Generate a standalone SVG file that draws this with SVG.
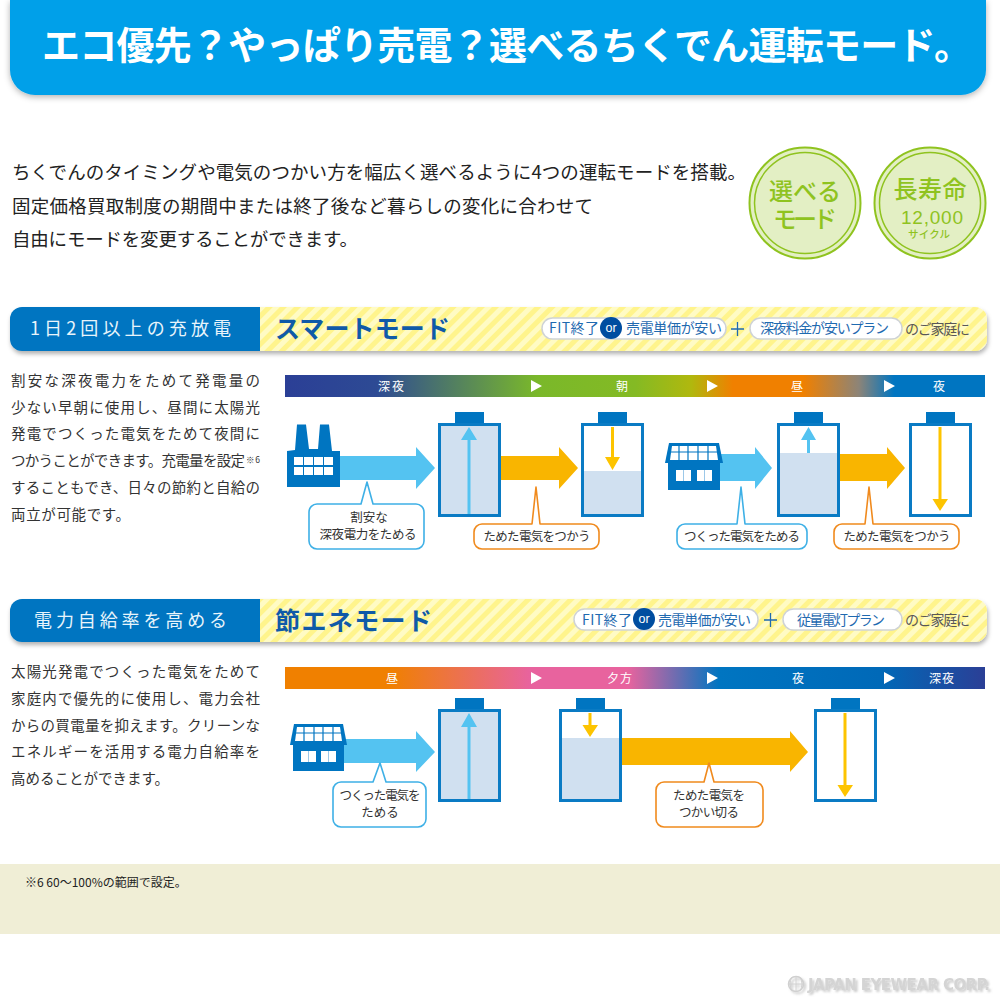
<svg xmlns="http://www.w3.org/2000/svg" width="1000" height="1000" viewBox="0 0 1000 1000">
<style>
text{font-family:"Noto Sans CJK JP","Noto Sans",sans-serif}
.m{text-anchor:middle}
.body{font-size:14.5px;fill:#333}
.intro{font-size:18.5px;fill:#222}
.lead{font-size:18px;fill:#e8f4fb}
.mode{font-size:25px;font-weight:700;fill:#0f5aa8}
.pill{fill:#fff;stroke:#cfd3d6;stroke-width:1.5}
.pt{font-size:14px;fill:#1f6ab0}
.gray{font-size:14px;fill:#595757}
.or{font-size:12.5px;fill:#fff;font-family:"Liberation Sans",sans-serif}
.tl{font-size:12px;fill:#fff}
.cap{fill:#0075c1}
.bat{fill:#fff;stroke:#0a7bc4;stroke-width:3}
.lvl{fill:#d0e0f0}
.cb{fill:#fff;stroke:#3eb0e6;stroke-width:1.6;stroke-linejoin:round}
.co{fill:#fff;stroke:#f08a1d;stroke-width:1.6;stroke-linejoin:round}
.ct{font-size:12.5px;fill:#333}
.ab{fill:#54c3f1}
.ay{fill:#f9b500}
.ag{fill:#fdc400}
.blue{fill:#0075c1}
.win{fill:#fff}
.ring{fill:#e3efc4;stroke:#8fc31f;stroke-width:2}
.ring2{fill:none;stroke:#8fc31f;stroke-width:1.5}
.gt{fill:#8fc31f;font-weight:500}
</style>
<defs>
<pattern id="st" width="10" height="10" patternUnits="userSpaceOnUse" patternTransform="rotate(45)">
<rect width="10" height="10" fill="#fff48c"/><rect width="5" height="10" fill="#fffbc4"/>
</pattern>
<filter id="sh" x="-3%" y="-20%" width="106%" height="150%"><feDropShadow dx="1" dy="3" stdDeviation="2" flood-color="#000" flood-opacity=".3"/></filter>
<filter id="sh2" x="-3%" y="-20%" width="106%" height="150%"><feDropShadow dx="0" dy="2" stdDeviation="3" flood-color="#000" flood-opacity=".3"/></filter>
<filter id="blur" x="-5%" y="-40%" width="110%" height="200%"><feDropShadow dx="2" dy="2" stdDeviation="1.2" flood-color="#999" flood-opacity=".5"/></filter>
<linearGradient id="g1" gradientUnits="userSpaceOnUse" x1="285" y1="0" x2="985" y2="0">
<stop offset="0" stop-color="#2b3f96"/><stop offset=".13" stop-color="#2d4a94"/><stop offset=".36" stop-color="#7ab82a"/><stop offset=".5" stop-color="#84ba24"/><stop offset=".58" stop-color="#b0b80e"/><stop offset=".64" stop-color="#f08000"/><stop offset=".74" stop-color="#f08000"/><stop offset=".82" stop-color="#8c8478"/><stop offset=".87" stop-color="#0075c1"/><stop offset="1" stop-color="#0075c1"/>
</linearGradient>
<linearGradient id="g2" gradientUnits="userSpaceOnUse" x1="285" y1="0" x2="985" y2="0">
<stop offset="0" stop-color="#f08000"/><stop offset=".15" stop-color="#f08000"/><stop offset=".35" stop-color="#e8639e"/><stop offset=".49" stop-color="#e8639e"/><stop offset=".62" stop-color="#0075c1"/><stop offset=".85" stop-color="#0069b8"/><stop offset="1" stop-color="#2b3f96"/>
</linearGradient>
</defs>
<rect width="1000" height="1000" fill="#fff"/>

<g id="header">
<path d="M10 0H986V70a25 25 0 0 1-25 25H35a25 25 0 0 1-25-25Z" fill="#00a0e9" filter="url(#sh2)"/>
<text x="42" y="59" font-size="38" font-weight="700" fill="#fff" textLength="930" lengthAdjust="spacing">エコ優先？やっぱり売電？選べるちくでん運転モード。</text>
</g>

<g id="intro">
<text class="intro" x="12" y="179" textLength="734" lengthAdjust="spacing">ちくでんのタイミングや電気のつかい方を幅広く選べるように4つの運転モードを搭載。</text>
<text class="intro" x="12" y="213" textLength="581" lengthAdjust="spacing">固定価格買取制度の期間中または終了後など暮らしの変化に合わせて</text>
<text class="intro" x="12" y="246" textLength="346" lengthAdjust="spacing">自由にモードを変更することができます。</text>
</g>

<g id="badge-mode">
<circle class="ring" cx="805" cy="203" r="55.5"/><circle class="ring2" cx="805" cy="203" r="50.5"/>
<text class="gt m" x="805" y="200" font-size="24" textLength="72" lengthAdjust="spacing">選べる</text>
<text class="gt m" x="805" y="228" font-size="24" textLength="64" lengthAdjust="spacing">モード</text>
</g>
<g id="badge-life">
<circle class="ring" cx="930" cy="203" r="55.5"/><circle class="ring2" cx="930" cy="203" r="50.5"/>
<text class="gt m" x="930" y="198" font-size="24" textLength="73" lengthAdjust="spacing">長寿命</text>
<text class="gt m" x="932" y="224" font-size="19" textLength="62" lengthAdjust="spacing" style="font-family:'Liberation Sans',sans-serif">12,000</text>
<text class="gt m" x="929" y="238" font-size="10.5" textLength="42" lengthAdjust="spacing">サイクル</text>
</g>

<g id="smart-title">
<g filter="url(#sh)">
<path d="M260 307H975a12 12 0 0 1 12 12V339a12 12 0 0 1-12 12H260Z" fill="url(#st)"/>
<path d="M22 307H260V351H22a12 12 0 0 1-12-12V319a12 12 0 0 1 12-12Z" fill="#0075c1"/>
</g>
<text class="lead" x="30" y="335" textLength="201" lengthAdjust="spacing">1日2回以上の充放電</text>
<text class="mode" x="275" y="338" textLength="175" lengthAdjust="spacing">スマートモード</text>
<rect class="pill" x="542" y="318" width="184" height="21" rx="10.5"/>
<text class="pt" x="549" y="333" textLength="50" lengthAdjust="spacing">FIT終了</text>
<circle cx="611" cy="328" r="11" fill="#004da0"/><text class="or m" x="611" y="332">or</text>
<text class="pt" x="626" y="333" textLength="96" lengthAdjust="spacing">売電単価が安い</text>
<path d="M731 329H744M737.500 322V336" stroke="#1f6ab0" stroke-width="1.3" fill="none"/>
<rect class="pill" x="750" y="318" width="152" height="21" rx="10.5"/>
<text class="pt" x="760" y="333" textLength="129" lengthAdjust="spacing">深夜料金が安いプラン</text>
<text class="gray" x="905" y="334" textLength="65" lengthAdjust="spacing">のご家庭に</text>
</g>

<g id="smart-text">
<text class="body" x="11" y="386" textLength="249" lengthAdjust="spacing">割安な深夜電力をためて発電量の</text>
<text class="body" x="11" y="413" textLength="249" lengthAdjust="spacing">少ない早朝に使用し、昼間に太陽光</text>
<text class="body" x="11" y="439" textLength="249" lengthAdjust="spacing">発電でつくった電気をためて夜間に</text>
<text class="body" x="11" y="466" textLength="234" lengthAdjust="spacing">つかうことができます。充電量を設定</text>
<text x="246" y="463" font-size="8.5" fill="#333" textLength="14" lengthAdjust="spacing">※6</text>
<text class="body" x="11" y="493" textLength="249" lengthAdjust="spacing">することもでき、日々の節約と自給の</text>
<text class="body" x="11" y="520" textLength="119" lengthAdjust="spacing">両立が可能です。</text>
</g>

<g id="smart-timeline">
<rect x="285" y="375" width="700" height="22" fill="url(#g1)"/>
<path d="M531 380L542 386L531 392ZM707 380L718 386L707 392ZM884 380L895 386L884 392Z" fill="#fff"/>
<text class="tl m" x="392" y="391" letter-spacing="2">深夜</text>
<text class="tl m" x="622" y="391">朝</text>
<text class="tl m" x="797" y="391">昼</text>
<text class="tl m" x="939" y="391">夜</text>
</g>

<g id="connectors">
<path class="ab" d="M340 456H416V447L435 468L416 489V480H340Z"/>
<path class="ay" d="M500 456H559V447L578 468L559 489V480H500Z"/>
<path class="ab" d="M720 454H755V447L772 468L755 489V481H720Z"/>
<path class="ay" d="M839 454H887V447L905 468L887 489V481H839Z"/>
<path class="ab" d="M344 739H416V731L435 752L416 772V763H344Z"/>
<path class="ay" d="M621 738H790V731L808 752L790 772V765H621Z"/>
</g>

<g id="factory" class="blue">
<path d="M287 487V451L295 450L297 424.500H306L309 449H318L320 424.500H329L332 451H340V487Z"/>
<g class="win"><rect x="294" y="457" width="9" height="8"/><rect x="304" y="457" width="9" height="8"/><rect x="314" y="457" width="9" height="8"/><rect x="324" y="457" width="9" height="8"/><rect x="294" y="467" width="9" height="8"/><rect x="304" y="467" width="9" height="8"/><rect x="314" y="467" width="9" height="8"/><rect x="324" y="467" width="9" height="8"/></g>
</g>

<g id="house-1">
<rect class="blue" x="668" y="463" width="52" height="27"/>
<path class="blue" d="M669 443H719L723 463H665Z"/>
<path d="M672 446H716L718 460H670Z" fill="#fff"/>
<path d="M671 452H717M679 445V461M688 445V461M698 445V461M708 445V461" stroke="#0075c1" stroke-width="1.2" fill="none"/>
<rect class="win" x="676" y="470" width="15" height="11"/><rect class="win" x="697" y="470" width="15" height="11"/>
<path d="M683.500 470V481M704.500 470V481" stroke="#9cc8e8" fill="none"/>
</g>

<g id="house-2">
<rect class="blue" x="293" y="744" width="51" height="27"/>
<path class="blue" d="M294 724H343L347 745H290Z"/>
<path d="M297 727H340L342 741H295Z" fill="#fff"/>
<path d="M296 733H342M304 726V742M314 726V742M323 726V742M333 726V742" stroke="#0075c1" stroke-width="1.2" fill="none"/>
<rect class="win" x="301" y="751" width="15" height="11"/><rect class="win" x="321" y="751" width="15" height="11"/>
<path d="M308.500 751V762M328.500 751V762" stroke="#9cc8e8" fill="none"/>
</g>

<g id="battery-1">
<rect class="cap" x="455" y="412" width="29" height="12"/>
<rect class="bat" x="439.500" y="424.500" width="60" height="91" style="fill:#d0e0f0"/>
<path class="ab" d="M469 427L477 440H470.500V514H467.500V440H461Z"/>
</g>
<g id="battery-2">
<rect class="cap" x="598" y="412" width="29" height="12"/>
<rect class="bat" x="582.500" y="424.500" width="60" height="91"/>
<rect class="lvl" x="584" y="471" width="57" height="43"/>
<path class="ag" d="M611 427H614V457H620L612.500 470L605 457H611Z"/>
</g>
<g id="battery-3">
<rect class="cap" x="794" y="412" width="29" height="12"/>
<rect class="bat" x="778.500" y="424.500" width="60" height="91"/>
<rect class="lvl" x="780" y="453" width="57" height="61"/>
<path class="ab" d="M808.500 427L816 440H810V453H807V440H801Z"/>
</g>
<g id="battery-4">
<rect class="cap" x="926" y="412" width="29" height="12"/>
<rect class="bat" x="910.500" y="424.500" width="60" height="91"/>
<path class="ag" d="M938.500 427H941.500V499H948L940 511L932.500 499H938.500Z"/>
</g>

<g id="callout-1">
<path class="cb" d="M317 504H361L367 482L373 504H416a8 8 0 0 1 8 8V541a8 8 0 0 1-8 8H317a8 8 0 0 1-8-8V512a8 8 0 0 1 8-8Z"/>
<text class="ct m" x="369" y="522">割安な</text><text class="ct m" x="368" y="539" textLength="97" lengthAdjust="spacing">深夜電力をためる</text>
</g>
<g id="callout-2">
<path class="co" d="M482 524H532L536 487L540 524H591a8 8 0 0 1 8 8V541a8 8 0 0 1-8 8H482a8 8 0 0 1-8-8V532a8 8 0 0 1 8-8Z"/>
<text class="ct m" x="537" y="541" textLength="107" lengthAdjust="spacing">ためた電気をつかう</text>
</g>
<g id="callout-3">
<path class="cb" d="M685 524H737L741 487L745 524H799a8 8 0 0 1 8 8V541a8 8 0 0 1-8 8H685a8 8 0 0 1-8-8V532a8 8 0 0 1 8-8Z"/>
<text class="ct m" x="742" y="541" textLength="116" lengthAdjust="spacing">つくった電気をためる</text>
</g>
<g id="callout-4">
<path class="co" d="M842 524H865L869 487L873 524H951a8 8 0 0 1 8 8V541a8 8 0 0 1-8 8H842a8 8 0 0 1-8-8V532a8 8 0 0 1 8-8Z"/>
<text class="ct m" x="897" y="541" textLength="107" lengthAdjust="spacing">ためた電気をつかう</text>
</g>

<g id="eco-title">
<g filter="url(#sh)">
<path d="M260 599H975a12 12 0 0 1 12 12V630a12 12 0 0 1-12 12H260Z" fill="url(#st)"/>
<path d="M22 599H260V642H22a12 12 0 0 1-12-12V611a12 12 0 0 1 12-12Z" fill="#0075c1"/>
</g>
<text class="lead" x="34" y="627" textLength="193" lengthAdjust="spacing">電力自給率を高める</text>
<text class="mode" x="275" y="630" textLength="157" lengthAdjust="spacing">節エネモード</text>
<rect class="pill" x="574" y="609" width="184" height="21" rx="10.5"/>
<text class="pt" x="582" y="625" textLength="50" lengthAdjust="spacing">FIT終了</text>
<circle cx="644" cy="619" r="11" fill="#004da0"/><text class="or m" x="644" y="623">or</text>
<text class="pt" x="658" y="625" textLength="93" lengthAdjust="spacing">売電単価が安い</text>
<path d="M764 620H777M770.500 613V627" stroke="#1f6ab0" stroke-width="1.3" fill="none"/>
<rect class="pill" x="783" y="609" width="119" height="21" rx="10.5"/>
<text class="pt" x="797" y="625" textLength="88" lengthAdjust="spacing">従量電灯プラン</text>
<text class="gray" x="905" y="625" textLength="65" lengthAdjust="spacing">のご家庭に</text>
</g>

<g id="eco-text">
<text class="body" x="11" y="677" textLength="249" lengthAdjust="spacing">太陽光発電でつくった電気をためて</text>
<text class="body" x="11" y="704" textLength="249" lengthAdjust="spacing">家庭内で優先的に使用し、電力会社</text>
<text class="body" x="11" y="731" textLength="249" lengthAdjust="spacing">からの買電量を抑えます。クリーンな</text>
<text class="body" x="11" y="757" textLength="249" lengthAdjust="spacing">エネルギーを活用する電力自給率を</text>
<text class="body" x="11" y="784" textLength="158" lengthAdjust="spacing">高めることができます。</text>
</g>

<g id="eco-timeline">
<rect x="285" y="667" width="700" height="22" fill="url(#g2)"/>
<path d="M531 672L542 678L531 684ZM707 672L718 678L707 684ZM884 672L895 678L884 684Z" fill="#fff"/>
<text class="tl m" x="392" y="683">昼</text>
<text class="tl m" x="620" y="683" letter-spacing="1">夕方</text>
<text class="tl m" x="798" y="683">夜</text>
<text class="tl m" x="942" y="683" letter-spacing="1">深夜</text>
</g>

<g id="battery-5">
<rect class="cap" x="455" y="698" width="29" height="12"/>
<rect class="bat" x="439.500" y="710.500" width="60" height="90" style="fill:#d0e0f0"/>
<path class="ab" d="M469 713L477 727H470.500V799H467.500V727H461Z"/>
</g>
<g id="battery-6">
<rect class="cap" x="576" y="698" width="29" height="12"/>
<rect class="bat" x="560.500" y="710.500" width="60" height="90"/>
<rect class="lvl" x="562" y="738" width="57" height="61"/>
<path class="ag" d="M588.500 713H591.500V725H598L590 737L582.500 725H588.500Z"/>
</g>
<g id="battery-7">
<rect class="cap" x="831" y="698" width="29" height="12"/>
<rect class="bat" x="815.500" y="710.500" width="60" height="90"/>
<path class="ag" d="M843.500 713H846.500V785H853L845 797L837.500 785H843.500Z"/>
</g>

<g id="callout-5">
<path class="cb" d="M341 782H373L380 763L386 782H418a8 8 0 0 1 8 8V819a8 8 0 0 1-8 8H341a8 8 0 0 1-8-8V790a8 8 0 0 1 8-8Z"/>
<text class="ct m" x="380" y="800" textLength="81" lengthAdjust="spacing">つくった電気を</text><text class="ct m" x="380" y="817">ためる</text>
</g>
<g id="callout-6">
<path class="co" d="M664 782H704L709 763L714 782H755a8 8 0 0 1 8 8V819a8 8 0 0 1-8 8H664a8 8 0 0 1-8-8V790a8 8 0 0 1 8-8Z"/>
<text class="ct m" x="709" y="800" textLength="72" lengthAdjust="spacing">ためた電気を</text><text class="ct m" x="709" y="817" textLength="60" lengthAdjust="spacing">つかい切る</text>
</g>

<g id="footnote">
<rect x="0" y="864" width="1000" height="70" fill="#f0eed6"/>
<text x="25" y="887" font-size="12" fill="#222">※6 60〜100%の範囲で設定。</text>
</g>

<g id="logo" filter="url(#blur)">
<circle cx="796" cy="984" r="7.5" fill="none" stroke="#d0d0d0" stroke-width="1.5"/>
<path d="M788 984H804M796 976V992M792 977Q788 984 792 991M800 977Q804 984 800 991" stroke="#d0d0d0" fill="none"/>
<text x="808" y="990" font-size="15" font-weight="700" fill="#d4d4d4" textLength="182" lengthAdjust="spacing" style="font-family:'DejaVu Sans',sans-serif">JAPAN EYEWEAR CORP.</text>
</g>
</svg>
